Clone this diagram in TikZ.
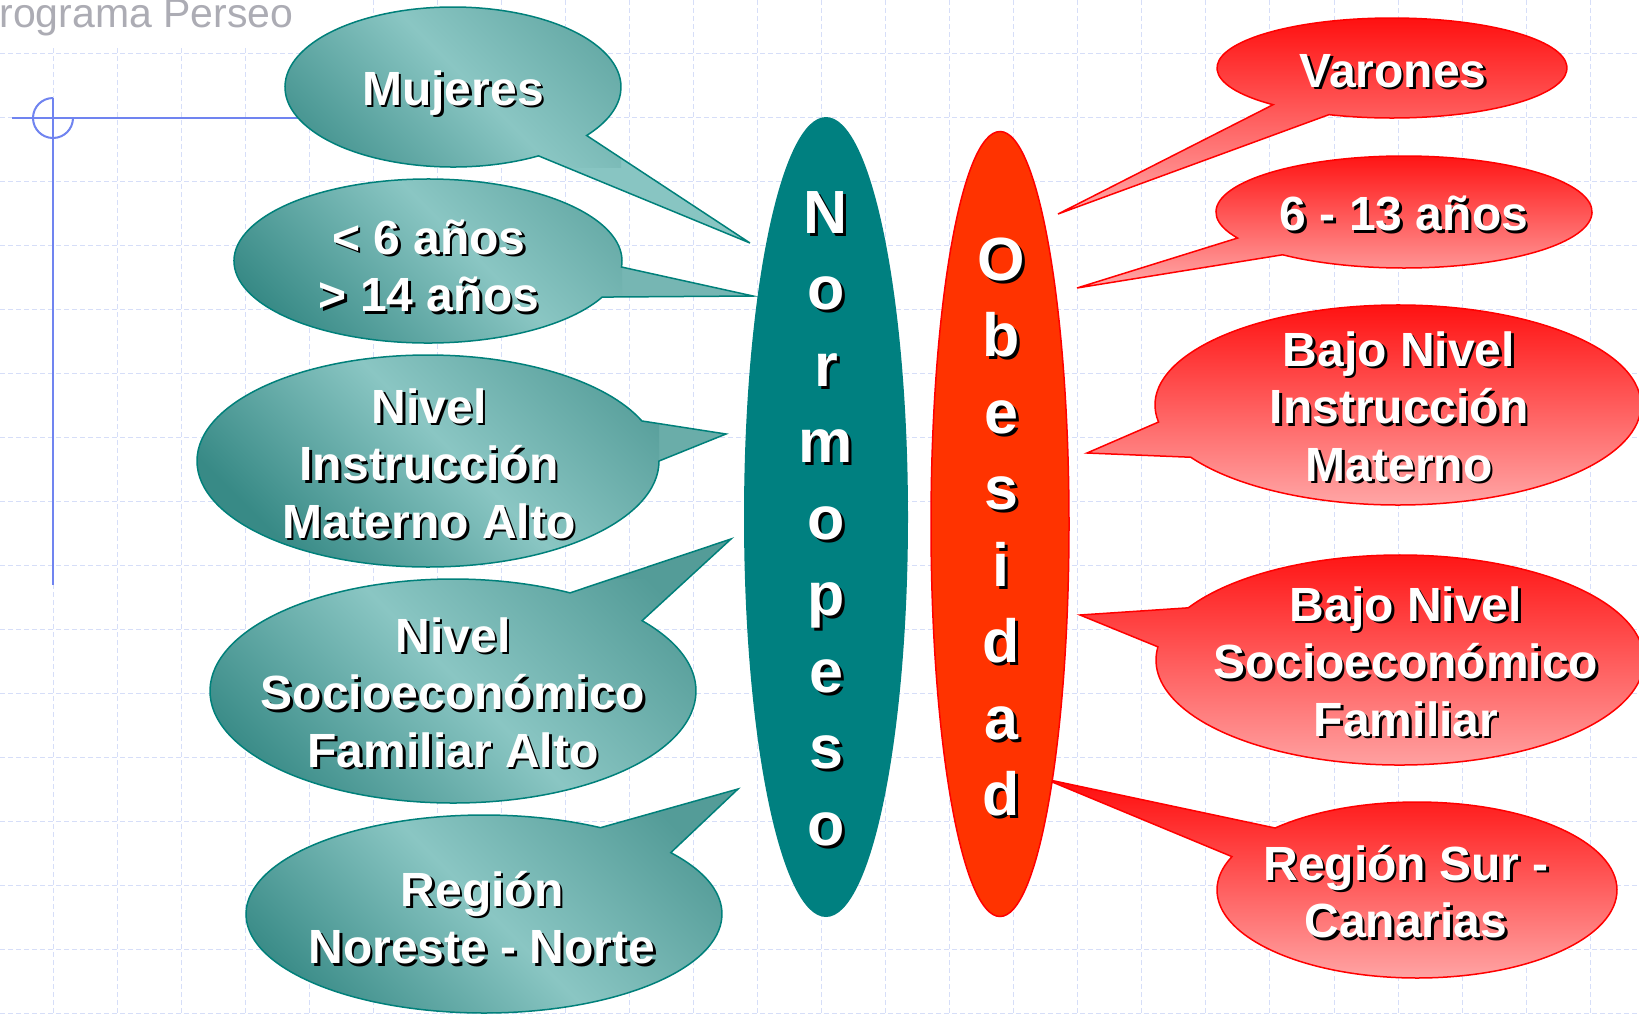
\documentclass[tikz,border=0pt]{standalone}
\usepackage{fontspec}
\setmainfont{Liberation Sans}
\usetikzlibrary{calc, shapes.geometric}

\definecolor{tealfondo}{RGB}{0,128,128}
\definecolor{tealborde}{RGB}{0,128,122}
\definecolor{tealclaro}{RGB}{138,198,195}
\definecolor{tealmedio}{RGB}{84,156,152}
\definecolor{tealoscuro}{RGB}{56,138,134}
\definecolor{cola1}{RGB}{136,197,194}
\definecolor{cola2}{RGB}{118,182,179}
\definecolor{cola3}{RGB}{106,173,169}
\definecolor{cola4}{RGB}{84,156,152}
\definecolor{rojofondo}{RGB}{255,51,0}
\definecolor{rojoborde}{RGB}{255,0,0}
\definecolor{rojoarriba}{RGB}{255,12,12}
\definecolor{rosaabajo}{RGB}{255,170,170}
\definecolor{rejilla}{RGB}{214,222,248}
\definecolor{azulcruz}{RGB}{112,132,240}
\definecolor{gristitulo}{RGB}{172,172,180}

% texto blanco con sombra negra
\newcommand{\sombra}[2][2.5pt]{\leavevmode\rlap{\kern#1\raisebox{-#1}{\textcolor{black}{#2}}}\textcolor{white}{#2}}
% bocadillo: centro, rx, ry, angulo fin, angulo inicio, punta, estilo
\newcommand{\burbuja}[7]{%
  \path[#7] (#6) -- ($(#1)+(#5:#2 and #3)$)
    arc[start angle=#5, end angle=#4, x radius=#2, y radius=#3] -- cycle;}

\begin{document}
\begin{tikzpicture}[x=1pt, y=-1pt,
  rejillalinea/.style={rejilla, line width=1pt, dash pattern=on 5pt off 3pt},
  cruzlinea/.style={azulcruz, line width=2pt},
  burbujaverde/.style n args={4}{draw=tealborde, line width=1.5pt, fill=#4,
    path picture={\shade[top color=tealmedio, bottom color=tealoscuro, middle color=tealclaro, shading angle=-45]
      ($(#1)-(#2,#3)$) rectangle ($(#1)+(#2,#3)$);}},
  burbujaroja/.style={draw=rojoborde, line width=1.5pt, top color=rojoarriba, bottom color=rosaabajo},
  texto/.style={align=center, font=\fontsize{48}{57.5}\selectfont\bfseries, inner sep=0pt},
  letra/.style={anchor=base, font=\fontsize{61}{70}\selectfont\bfseries, inner sep=0pt},
  ovalo/.style={ellipse, inner sep=0pt}]

\useasboundingbox (0,0) rectangle (1639,1013);
\fill[white] (0,0) rectangle (1639,1013);

% rejilla
\foreach \i in {0,...,24}
  \draw[rejillalinea] ({53+64.05*\i},0) -- ({53+64.05*\i},1013);
\foreach \j in {0,...,15}
  \draw[rejillalinea] (0,{53+64.05*\j}) -- (1639,{53+64.05*\j});

% titulo
\fill[white] (-1,-1) rectangle (350,47);
\node[anchor=base west, inner sep=0pt, text=gristitulo, font=\fontsize{41}{49}\selectfont] (prog) at (-28,27) {Programa Perseo};

% cruz
\coordinate (ccruz) at (53,118);
\draw[cruzlinea] (12,118) -- (300,118);
\draw[cruzlinea] (53,98) -- (53,585);
\draw[cruzlinea] (53,98) arc[start angle=270, end angle=0, radius=20];

% puntas
\coordinate (p1) at (750,243);
\coordinate (p2) at (753,296);
\coordinate (p3) at (726,434);
\coordinate (p4) at (731,539);
\coordinate (p5) at (738,789);
\coordinate (q1) at (1058,214);
\coordinate (q2) at (1077,288);
\coordinate (q3) at (1087,453);
\coordinate (q4) at (1080,615);
\coordinate (q5) at (1045,779);

% bocadillos verdes
\burbuja{453,87}{168}{80}{397.3}{59.4}{p1}{burbujaverde={453,87}{168}{80}{cola1}}
\burbuja{428,261}{194}{82}{364.2}{26.1}{p2}{burbujaverde={428,261}{194}{82}{cola2}}
\burbuja{428,461}{231}{106}{337.8}{0}{p3}{burbujaverde={428,461}{231}{106}{cola3}}
\burbuja{453,691}{243}{112}{298.8}{-38.9}{p4}{burbujaverde={453,691}{243}{112}{cola4}}
\burbuja{484,914}{238}{99}{299.3}{-38.3}{p5}{burbujaverde={484,914}{238}{99}{cola4}}

% bocadillos rojos
\burbuja{1392,68}{175}{50}{471.1}{132.8}{q1}{burbujaroja}
\burbuja{1404,212}{188}{56}{490.2}{152.3}{q2}{burbujaroja}
\burbuja{1398,405}{243}{100}{508.5}{170.2}{q3}{burbujaroja}
\burbuja{1400,660}{244}{105}{547.2}{209.8}{q4}{burbujaroja}
\burbuja{1417,890}{200}{88}{562.3}{224.8}{q5}{burbujaroja}

% ovalos centrales
\node[ovalo, fill=tealfondo, minimum width=164pt, minimum height=800pt] (normo) at (826,517) {};
\node[ovalo, fill=rojofondo, draw=rojoborde, line width=1.5pt, minimum width=138pt, minimum height=785pt] (obes) at (1000,524) {};

\foreach \l [count=\i] in {N,o,r,m,o,p,e,s,o}
  \node[letra] (normo-\i) at (826,{233+76.5*(\i-1)}) {\sombra[3pt]{\l}};
\foreach \l [count=\i] in {O,b,e,s,i,d,a,d}
  \node[letra] (obes-\i) at (1001,{280+76.5*(\i-1)}) {\sombra[3pt]{\l}};

% textos
\node[texto] (mujeres) at (453,94) {\sombra{Mujeres}};
\node[texto] (edad) at (429,267) {\sombra{< 6 años}\\\sombra{> 14 años}};
\node[texto] (instr) at (429,465) {\sombra{Nivel}\\\sombra{Instrucción}\\\sombra{Materno Alto}};
\node[texto] (socio) at (453,694) {\sombra{Nivel}\\\sombra{Socioeconómico}\\\sombra{Familiar Alto}};
\node[texto] (noreste) at (482,919) {\sombra{Región}\\\sombra{Noreste - Norte}};

\node[texto] (varones) at (1393,72) {\sombra{Varones}};
\node[texto] (edadob) at (1404,215) {\sombra{6 - 13 años}};
\node[texto] (binstr) at (1399,408) {\sombra{Bajo Nivel}\\\sombra{Instrucción}\\\sombra{Materno}};
\node[texto] (bsocio) at (1406,663) {\sombra{Bajo Nivel}\\\sombra{Socioeconómico}\\\sombra{Familiar}};
\node[texto] (sur) at (1406,893) {\sombra{Región Sur -}\\\sombra{Canarias}};

\end{tikzpicture}
\end{document}
